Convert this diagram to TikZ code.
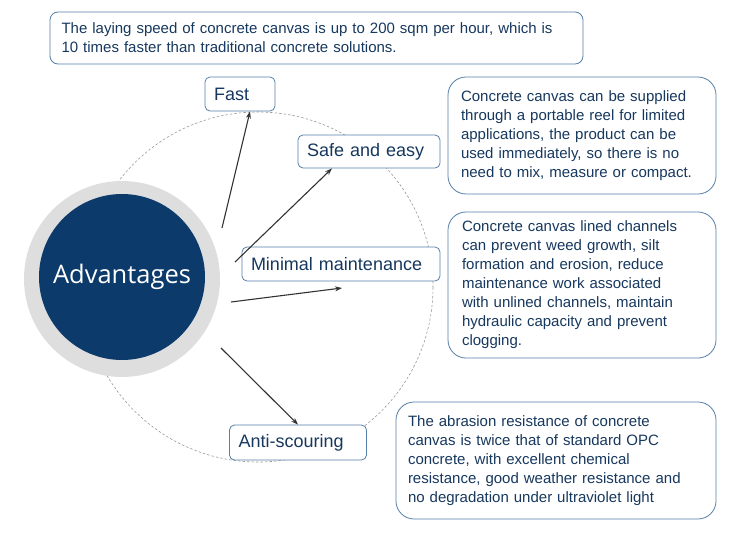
\documentclass[tikz,border=0pt]{standalone}
\usepackage{fontspec}
\setmainfont{Liberation Sans}
\newfontfamily\hubfont{Open Sans}
\usetikzlibrary{arrows.meta, positioning, calc}
\definecolor{navy}{HTML}{0C3A6B}
\definecolor{inkblue}{HTML}{17385E}
\definecolor{edgeblue}{HTML}{557FA8}
\definecolor{ringgrey}{HTML}{DEDEDF}
\tikzstyle{tag} = [rectangle, draw=edgeblue, fill=white, line width=0.8pt, rounded corners=5pt, text=inkblue, font=\fontsize{18}{20}\selectfont, align=left, inner xsep=9pt, inner ysep=0pt]
\tikzstyle{note} = [rectangle, draw=edgeblue, fill=white, line width=0.8pt, rounded corners=18pt, text=inkblue, font=\fontsize{15}{19}\selectfont, align=left, inner sep=0pt]
\tikzstyle{line} = [draw=black!80, line width=1.1pt, -{Stealth[length=7pt, width=5pt]}]

\begin{document}
\begin{tikzpicture}[x=1pt, y=-1pt]
        \useasboundingbox (0,0) rectangle (739,533);

        % dashed orbit behind everything
        \draw[gray!80, line width=0.6pt, dash pattern=on 2.5pt off 2pt] (258,287) circle [radius=175];

        \node (ring) [circle, fill=ringgrey, minimum size=196pt, inner sep=0pt] at (122,279) {};
        \node (hub) [circle, fill=navy, minimum size=166pt, inner sep=0pt, text=white, font=\hubfont\fontsize{25.5}{28}\selectfont] at (122,277) {Advantages};

        \node (speed) [note, rounded corners=8pt, minimum width=533pt, minimum height=52pt, text width=510pt] at (316.5,38) {The laying speed of concrete canvas is up to 200 sqm per hour, which is\\10 times faster than traditional concrete solutions.};

        \node (fast) [tag, minimum width=70pt, minimum height=34pt, text width=52pt] at (240,94) {Fast};
        \node (safe) [tag, minimum width=142pt, minimum height=33pt, text width=124pt] at (369,151.5) {Safe and easy};
        \node (minimal) [tag, minimum width=198pt, minimum height=34pt, text width=180pt] at (341,264) {Minimal maintenance};
        \node (anti) [tag, minimum width=136pt, minimum height=35pt, text width=119pt] at (298,442.5) {Anti-scouring};

        \node (reel) [note, minimum width=268pt, minimum height=117pt, text width=242pt] at (582,135.5) {Concrete canvas can be supplied\\through a portable reel for limited\\applications, the product can be\\used immediately, so there is no\\need to mix, measure or compact.};
        \node (channel) [note, minimum width=268pt, minimum height=146pt, text width=240pt] at (582,285) {Concrete canvas lined channels\\can prevent weed growth, silt\\formation and erosion, reduce\\maintenance work associated\\with unlined channels, maintain\\hydraulic capacity and prevent\\clogging.};
        \node (abrasion) [note, minimum width=320pt, minimum height=117pt, text width=296pt] at (556,460.5) {The abrasion resistance of concrete\\canvas is twice that of standard OPC\\concrete, with excellent chemical\\resistance, good weather resistance and\\no degradation under ultraviolet light};

        \coordinate (fastfoot) at (222,228);
        \coordinate (safefoot) at (235,262);
        \coordinate (minfoot) at (231,302);
        \coordinate (minhead) at (342,288);
        \coordinate (antifoot) at (221,348);

        \path [line] (fastfoot) -- ([xshift=10pt]fast.south);
        \path [line] (safefoot) -- ([xshift=-37pt]safe.south);
        \path [line] (minfoot) -- (minhead);
        \path [line] (antifoot) -- (anti.north);

    \end{tikzpicture}
\end{document}
